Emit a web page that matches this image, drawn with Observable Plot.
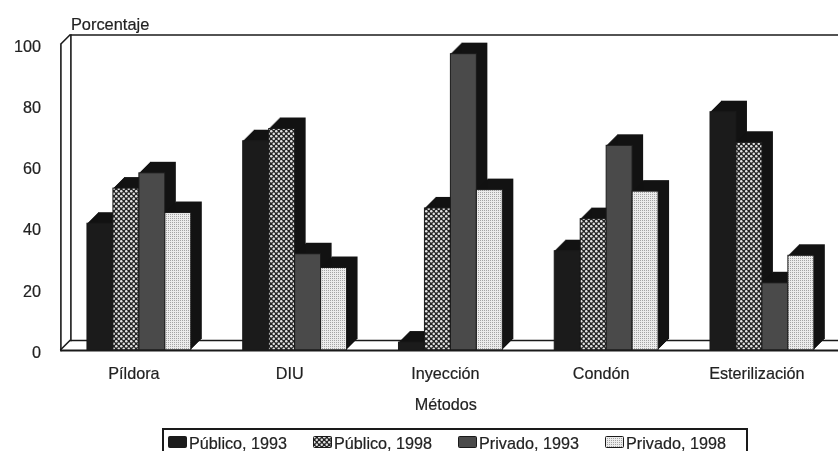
<!DOCTYPE html>
<html><head><meta charset="utf-8">
<script src="https://cdn.jsdelivr.net/npm/d3@7"></script>
<script src="https://cdn.jsdelivr.net/npm/@observablehq/plot@0.6"></script>
<style>
html,body{margin:0;padding:0;background:#fff;overflow:hidden;width:838px;height:451px}
#page{position:relative;width:838px;height:451px;overflow:hidden;filter:blur(.5px)}
#chart svg{display:block;font-family:"Liberation Sans",Arial,sans-serif}
#chart text{stroke:#222;stroke-width:.2px}
#legend{position:absolute;left:162px;top:428px;width:582px;height:40px;border:2px solid #1a1a1a;box-sizing:content-box;font:16.2px "Liberation Sans",Arial,sans-serif;color:#222;-webkit-text-stroke:.2px #222}
#legend .e{position:absolute;top:4px;display:flex;align-items:flex-start;white-space:nowrap;line-height:19px}
#legend svg{display:block;margin-right:2px;margin-top:2px}
</style></head><body>
<div id="page">
<svg width="0" height="0" style="position:absolute"><defs>
<pattern id="dots" width="5" height="5" patternUnits="userSpaceOnUse"><rect width="5" height="5" fill="#242424"/><circle cx="1.25" cy="1.25" r="1.25" fill="#e4e4e4"/><circle cx="3.75" cy="3.75" r="1.25" fill="#e4e4e4"/></pattern>
<pattern id="fine" width="2" height="2" patternUnits="userSpaceOnUse"><rect width="2" height="2" fill="#ececec"/><rect x="0" y="0" width="1" height="1" fill="#a4a4a4"/></pattern>
</defs></svg>
<div id="chart"></div>
<div id="legend"></div>
</div>
<script>
const methods = ["Píldora","DIU","Inyección","Condón","Esterilización"];
const series = ["Público, 1993","Público, 1998","Privado, 1993","Privado, 1998"];
const publico1993 = [41.5,68.5,2.6,32.5,78];
const publico1998 = [53,72.5,46.5,43,68];
const privado1993 = [58,31.5,97,67,22];
const privado1998 = [45,27,52.5,52,31];
const values = [publico1993,publico1998,privado1993,privado1998];
const fills = ["#1b1b1b","url(#dots)","#4a4a4a","url(#fine)"];
const depth = 10, barDepth = 11;
const key = (m,s)=>m+"|"+s;
// band domain: each method holds an empty slot, its four bars, and an empty slot
const xDomain = methods.flatMap(m=>[key(m,"antes"),...series.map(s=>key(m,s)),key(m,"después")]);
const rows = series.map((s,i)=>methods.map((m,j)=>({key:key(m,s),value:values[i][j]})));

const extrusion = d3.range(1,barDepth+1);
const barMarks = rows.flatMap((data,i)=>[
  ...extrusion.map(k=>Plot.barY(data,{x:"key",y:"value",fill:"#121212",dx:k,dy:-k})),
  Plot.barY(data,{x:"key",y:"value",fill:fills[i],stroke:"#1a1a1a",strokeWidth:1})
]);

// Diagonal corners that join the front plane to the back wall
const corners = (index,{y},values,dim)=>{
  const g = d3.create("svg:g").attr("stroke","#1a1a1a").attr("stroke-width",1.6);
  const l = dim.marginLeft;
  [0,100].forEach(v=>g.append("line").attr("x1",l).attr("x2",l+depth).attr("y1",y(v)).attr("y2",y(v)-depth));
  return g.node();
};
const band = 778.8/xDomain.length;

const chart = Plot.plot({
  width:838,height:425,
  marginLeft:60.4,marginRight:0,marginTop:44.5,marginBottom:75,
  style:{fontFamily:'"Liberation Sans",Arial,sans-serif',fontSize:"16.2px",color:"#222",background:"transparent"},
  x:{type:"band",domain:xDomain,range:[61,839.8],padding:0,round:false,axis:null},
  y:{domain:[0,100],axis:null},
  marks:[
    Plot.ruleY([0],{dx:depth,dy:-depth,stroke:"#1a1a1a",strokeWidth:1.6}),
    Plot.ruleY([100],{dx:depth,dy:-depth,stroke:"#1a1a1a",strokeWidth:1.6}),
    Plot.frame({anchor:"left",dx:depth,dy:-depth,stroke:"#1a1a1a",strokeWidth:1.6}),
    Plot.frame({anchor:"left",stroke:"#1a1a1a",strokeWidth:1.6}),
    corners,
    ...barMarks,
    Plot.ruleY([0],{stroke:"#1a1a1a",strokeWidth:2}),
    Plot.axisY({ticks:[0,20,40,60,80,100],tickSize:0,tickPadding:20,dy:2,label:null}),
    Plot.axisX({ticks:methods.map(m=>key(m,series[1])),tickFormat:d=>d.split("|")[0],tickSize:0,tickPadding:17,dx:band/2-5.5,label:null}),
    Plot.text(["Métodos"],{frameAnchor:"bottom",dx:-4,dy:59,fontSize:16.2}),
    Plot.text(["Porcentaje"],{frameAnchor:"top-left",dx:10,dy:-27,textAnchor:"start",fontSize:16.4})
  ]
});
document.getElementById("chart").append(chart);

const legendX = [4,149,294,441];
const legend = d3.select("#legend");
series.forEach((s,i)=>{
  const e = legend.append("div").attr("class","e").style("left",legendX[i]+"px");
  const sv = e.append("svg").attr("width",19).attr("height",12);
  sv.append("rect").attr("x",.5).attr("y",.5).attr("width",18).attr("height",11).attr("rx",1).attr("fill",fills[i]).attr("stroke","#1a1a1a");
  e.append("span").text(s);
});
</script>
</body></html>
